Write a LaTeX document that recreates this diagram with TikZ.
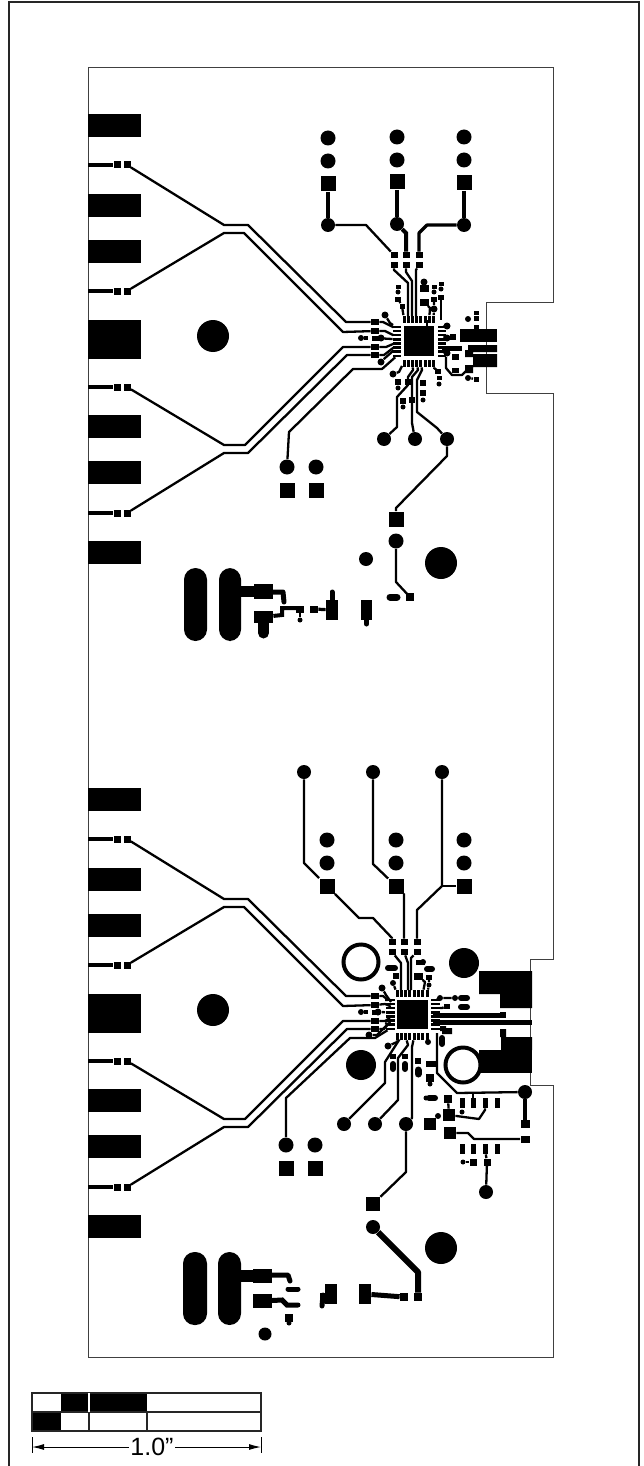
\documentclass[tikz,border=0pt]{standalone}
\usepackage{fontspec}
\setsansfont{Liberation Sans}
\usetikzlibrary{arrows.meta}

\begin{document}
\begin{tikzpicture}[x=0.5pt, y=-0.5pt]
    % ================= styles =================
    \tikzset{
        vnode/.style={circle, fill=black, minimum size=#1*0.5pt, inner sep=0pt},
        vnode/.default=14,
        pnode/.style 2 args={rectangle, fill=black, minimum width=#1*0.5pt, minimum height=#2*0.5pt, inner sep=0pt},
        ringnode/.style={circle, draw=black, line width=2pt, fill=white, minimum size=35*0.5pt, inner sep=0pt},
        track/.style={line width=1.15pt, black, line join=round},
        wtrack/.style={line width=1.6pt, black, line join=round},
        blob/.style={line width=#1*0.5pt, black, line cap=round, line join=round},
        outline/.style={line width=0.5pt, black!75},
        frameline/.style={line width=1pt, black!85}
    }
    \useasboundingbox (0,0) rectangle (643,1466);

    % ================= frame and board =================
    \draw[frameline] (9,1470)--(9,2)--(639,2)--(639,1470);
    \draw[outline] (88,68)--(553,68)--(553,302)--(486,302)--(486,393)--(553,393)--(553,959)
        --(530,959)--(530,1085)--(553,1085)--(553,1357)--(88,1357)--cycle;

    % ================= left half, same on both boards =================
    \foreach \dy/\bd in {0/t,674/b}{
        \begin{scope}[shift={(0,\dy)}, name prefix=\bd-]
            \foreach \yt/\ht in {125.5/23, 205.5/23, 251.5/23, 339/39, 426/23, 472.5/23, 552.5/23}
                \node[pnode={53}{\ht}] at (114.5,\yt) {};
            \node[vnode=32] (hole) at (213,336) {};

            \foreach \i/\ys in {1/165, 2/291, 3/387, 4/513}{
                \coordinate (e\i) at (88,\ys);
                \node[pnode={7}{7}] (a\i) at (117,\ys) {};
                \node[pnode={7}{7}] (c\i) at (127,\ys) {};
                \draw[line width=2pt] (e\i)--(a\i);
            }
            \node[pnode={8}{6}] (p1) at (375,322) {};
            \node[pnode={8}{6}] (p2) at (375,331) {};
            \node[pnode={7}{5}] (p3) at (375,338) {};
            \node[pnode={8}{6}] (p4) at (375,347) {};
            \node[pnode={8}{6}] (p5) at (375,355) {};
            \node[vnode=6] (v3) at (361,338) {};
            \coordinate (v3b) at (368,338);
            \draw[line width=2pt] (v3)--(v3b);

            \draw[track] (c1)--(224,225)--(248,225)--(346,322)--(p1);
            \draw[track] (c2)--(224,233)--(244,233)--(343,332)--(p2);
            \draw[track] (c3)--(224,445)--(245,445)--(343,347)--(p4);
            \draw[track] (c4)--(224,453)--(248,453)--(347,355)--(p5);
        \end{scope}
    }

    % ================= top board: connector pads =================
    \foreach \n/\xc/\ya/\yb/\yc/\yd in {1/328/138/161/184/225, 2/397/137/160/182/224, 3/464/137/160/183/225}{
        \node[vnode=15] (ta\n) at (\xc,\ya) {};
        \node[vnode=15] (tb\n) at (\xc,\yb) {};
        \node[pnode={15}{15}] (ts\n) at (\xc,\yc) {};
        \node[vnode=14] (td\n) at (\xc,\yd) {};
        \draw[wtrack] (ts\n)--(td\n);
    }
    \foreach \n/\xc in {1/394, 2/406, 3/419}{
        \node[pnode={7}{6}] (tu\n) at (\xc,255) {};
        \node[pnode={7}{6}] (tl\n) at (\xc,265) {};
    }
    \draw[track] (td1)--(366,225)--(tu1);
    \draw[line width=2pt] (td2)--(406,233)--(tu2);
    \draw[wtrack] (td3)--(427,225)--(419,233)--(tu3);
    \draw[track] (tl1)--(394,270)--(408,283)--(408,316);
    \draw[track] (tl2)--(406,272)--(412,281)--(412,316);
    \draw[track] (tl3)--(416,270)--(416,316);

    % ================= top board: chip =================
    \node[pnode={30}{30}] (tic) at (419,341) {};
    \foreach \i in {0,...,7}{
        \node[pnode={3}{7}] (ttp\i) at ({404+4.2*\i},319) {};
        \node[pnode={3}{7}] (tbp\i) at ({404+4.2*\i},363.5) {};
        \node[pnode={8}{2.4}] (tlp\i) at (397,{327+4.1*\i}) {};
        \node[pnode={8}{2.4}] (trp\i) at (441.5,{327+4.1*\i}) {};
    }
    \draw[track] (t-p1)--(383,322)--(393,327)--(tlp0);
    \draw[track] (t-p2)--(385,331)--(393,335)--(tlp2);
    \draw[track] (t-p3)--(tlp3);
    \node[vnode=7] (tv3) at (381,338) {};
    \draw[track] (t-p4)--(386,347)--(393,344)--(tlp4);
    \draw[track] (t-p5)--(384,355)--(393,348)--(tlp5);
    \node[vnode=7] (tv4) at (385,315) {};
    \draw[track] (tv4)--(390,323)--(393,325);
    \node[vnode=7] (tv5) at (381,362) {};
    \draw[track] (tv5)--(385,358)--(393,351)--(tlp6);
    \draw[track] (427,326)--(427,320);

    % ================= top board: small parts =================
    \node[vnode=7] (s1) at (424,282) {};
    \node[pnode={9}{7}] (s2) at (424,288) {};
    \node[pnode={9}{7}] (s3) at (424,302) {};
    \draw[track] (s3)--(430,308)--(ttp6);
    \foreach \n/\xc/\ya/\yb/\yc in {4/398/287/292/299, 5/434/287/292/299, 6/441/284/289/297}{
        \node[pnode={5}{4}] (sa\n) at (\xc,\ya) {};
        \node[vnode=5] (sb\n) at (\xc,\yb) {};
        \node[pnode={6}{5}] (sc\n) at (\xc,\yc) {};
    }
    \node[pnode={5}{5}] (s7) at (402,306) {};
    \draw[track] (sc4)--(s7)--(ttp0);
    \node[vnode=7] (s8) at (434,309) {};
    \draw[track] (sc5)--(s8)--(ttp7);
    \draw[track] (sc6)--(441,320);
    \node[vnode=7] (r1) at (447,326) {};
    \draw[track] (r1)--(trp0);
    \node[vnode=7] (r2) at (447,338) {};
    \node[pnode={6}{6}] (r3) at (453,337) {};
    \draw[track] (r2)--(trp2);
    \node[pnode={20}{5}] (r4) at (452,348) {};
    \node[vnode=7] (r5) at (447,353) {};
    \draw[track] (r5)--(trp6);
    \node[pnode={7}{6}] (r6) at (455,357) {};
    \node[pnode={7}{5}] (r7) at (455,370) {};
    \node[vnode=6] (r8) at (468,319) {};
    \node[pnode={5}{4}] (r9) at (476,313) {};
    \node[pnode={5}{5}] (r10) at (476,318) {};
    \node[pnode={5}{5}] (r11) at (476,327) {};
    \node[vnode=6] (r12) at (468,378) {};
    \node[pnode={5}{5}] (r13) at (476,379) {};
    \draw[track] (r12)--(r13);
    \fill (460,329) rectangle (497,342);
    \fill (468,345) rectangle (497,352) (465,350) rectangle (473,357);
    \fill (473,354) rectangle (497,367) (465,365) rectangle (473,373);
    \draw[track] (446,357)--(446,368)--(452,375)--(462,375)--(466,371);
    \draw[track] (tbp7)--(434,368)--(438,371);
    \node[pnode={6}{5}] (r14) at (438,371) {};
    \node[pnode={5}{4}] (r15) at (439,378) {};
    \node[vnode=5] (r16) at (439,384) {};

    % ================= top board: lower traces =================
    \node[vnode=14] (tj1) at (384,439) {};
    \node[vnode=14] (tj2) at (415,439) {};
    \node[vnode=14] (tj3) at (447,439) {};
    \node[vnode=15] (tk1) at (287,467) {};
    \node[vnode=15] (tk2) at (316,467) {};
    \node[pnode={15}{15}] (tq1) at (287,490) {};
    \node[pnode={15}{15}] (tq2) at (316,490) {};
    \node[pnode={15}{15}] (tq3) at (396,519) {};
    \node[vnode=15] (tk3) at (396,541) {};
    \node[vnode=14] (tk4) at (366,559) {};
    \node[vnode=32] (thole) at (441,563) {};
    \draw[track] (tk1)--(289,432)--(353,369)--(382,369)--(tlp7);
    \draw[track] (tj1)--(397,427)--(397,397)--(408,385)--(408,377)--(413,370)--(tbp2);
    \draw[track] (tj2)--(412,423)--(412,377)--(418,370)--(tbp3);
    \draw[track] (tj3)--(437,428)--(417,412)--(417,380)--(422,370)--(tbp4);
    \draw[track] (tj3)--(447,456)--(396,508)--(tq3);
    \draw[track] (tk3)--(396,582)--(410,597);
    \node[pnode={8}{8}] (te1) at (410,597) {};
    \draw[blob=7] (390,597)--(397,597);
    \node[vnode=7] (te2) at (393,374) {};
    \draw[track] (te2)--(399,372)--(402,366);
    \foreach \n/\xc/\ya in {1/398/382, 2/403/401, 3/423/383, 4/423/393}{
        \node[pnode={6}{6}] (tf\n) at (\xc,\ya) {};
    }
    \node[vnode=5] (tf5) at (398,388) {};
    \node[vnode=5] (tf6) at (403,407) {};
    \node[pnode={6}{6}] (tf7) at (408,382) {};
    \node[pnode={6}{6}] (tf8) at (412,400) {};
    \node[vnode=5] (tf9) at (423,400) {};

    % ================= top board: power end =================
    \fill[rounded corners=5.75pt] (184,568) rectangle (207,641);
    \fill[rounded corners=5.75pt] (219,568) rectangle (241,641);
    \fill (241,586) rectangle (255,597);
    \node[pnode={19}{15}] (tw1) at (263.5,591.5) {};
    \draw[blob=5] (273,592)--(283,592)--(284,602);
    \node[pnode={19}{12}] (tw2) at (263.5,617) {};
    \draw[blob=11] (263.5,622)--(263.5,633);
    \draw[line width=2pt] (tw2)--(282,615)--(282,608)--(303,608);
    \node[pnode={8}{7}] (tw3) at (300,609) {};
    \node[vnode=5] (tw4) at (300,620) {};
    \draw[track] (tw3)--(tw4);
    \node[pnode={8}{7}] (tw5) at (314,609) {};
    \node[pnode={12}{20}] (tw6) at (332,610) {};
    \draw[wtrack] (tw5)--(tw6);
    \draw[blob=5] (332,601)--(332,592);
    \node[pnode={11}{20}] (tw7) at (366.5,610) {};
    \draw[blob=5] (366.5,618)--(366.5,624);

    % ================= bottom board: connector pads =================
    \foreach \n/\xv/\xc in {1/304/327, 2/373/396, 3/442/464}{
        \node[vnode=14] (bv\n) at (\xv,772) {};
        \node[vnode=15] (ba\n) at (\xc,840) {};
        \node[vnode=15] (bb\n) at (\xc,863) {};
        \node[pnode={15}{15}] (bs\n) at (\xc,886) {};
    }
    \foreach \n/\xc in {1/392, 2/404, 3/417}{
        \node[pnode={7}{6}] (bu\n) at (\xc,942) {};
        \node[pnode={7}{6}] (bl\n) at (\xc,952) {};
    }
    \draw[track] (bv1)--(304,863)--(bs1)--(359,918)--(373,918)--(392,938)--(bu1);
    \draw[track] (bv2)--(373,864)--(bs2)--(404,894)--(bu2);
    \draw[track] (bv3)--(442,886)--(417,910)--(bu3);
    \draw[track] (442,886)--(bs3);
    \draw[track] (bl1)--(401,963)--(401,990);
    \draw[track] (bl2)--(408,963)--(408,990);
    \draw[track] (bl3)--(411,958)--(411,990);
    \node[ringnode] (bring1) at (361,962) {};
    \node[ringnode] (bring2) at (463,1065) {};
    \node[vnode=30] (bhole1) at (464,963) {};
    \node[vnode=30] (bhole2) at (361,1065) {};
    \node[vnode=32] (bhole3) at (441,1248) {};

    % ================= bottom board: chip =================
    \node[pnode={31}{29}] (bic) at (412.5,1014.5) {};
    \foreach \i in {0,...,7}{
        \node[pnode={3}{7}] (btp\i) at ({397+4.3*\i},993.5) {};
        \node[pnode={3}{7}] (bbp\i) at ({397+4.3*\i},1036.5) {};
        \node[pnode={9}{2.4}] (blp\i) at (390,{1000+4.1*\i}) {};
        \node[pnode={9}{2.4}] (brp\i) at (435,{1000+4.1*\i}) {};
    }
    \draw[track] (b-p1)--(383,996)--(388,1000)--(blp0);
    \draw[track] (b-p2)--(385,1004)--(390,1006)--(blp1);
    \node[vnode=7] (bv3) at (378,1012) {};
    \draw[track] (bv3)--(blp3);
    \draw[track] (b-p4)--(385,1021)--(390,1018)--(blp4);
    \draw[track] (b-p5)--(384,1029)--(390,1022)--(blp5);
    \node[vnode=7] (bv4) at (382,988) {};
    \draw[track] (bv4)--(386,995)--(391,1002);
    \node[vnode=7] (bv5) at (369,1035) {};
    \draw[track] (bv5)--(377,1035)--(388,1024)--(blp6);

    % ================= bottom board: small parts =================
    \node[pnode={9}{5}] (bn1) at (420,962) {};
    \node[vnode=6] (bn2) at (423,962) {};
    \draw[blob=6] (388,968)--(395,968);
    \draw[blob=6] (427,969)--(432,969);
    \node[pnode={6}{6}] (bn3) at (396,976) {};
    \node[vnode=6] (bn4) at (393,983) {};
    \draw[track] (bn4)--(btp0);
    \node[pnode={9}{7}] (bn5) at (418,976) {};
    \draw[track] (bn5)--(425,982)--(btp6);
    \node[pnode={6}{5}] (bn6) at (429,977) {};
    \node[vnode=5] (bn7) at (429,985) {};
    \draw[track] (bn6)--(bn7)--(btp7);
    \node[vnode=6] (bn8) at (440,998) {};
    \node[vnode=6] (bn9) at (455,998) {};
    \draw[track] (brp0)--(bn8)--(bn9);
    \draw[blob=6] (461,998)--(467,998);
    \node[pnode={6}{5}] (bn10) at (447,1006) {};
    \draw[track] (brp2)--(442,1008)--(bn10);
    \draw[blob=6] (461,1007)--(467,1007);
    \fill (479,971) rectangle (532,994) (500,994) rectangle (532,1008);
    \fill (500,1029) rectangle (506,1037) (501,1037) rectangle (532,1050);
    \fill (479,1050) rectangle (532,1073);
    \coordinate (bx0) at (433,1015);
    \node[pnode={6}{6}] (bx1) at (503,1015) {};
    \draw[line width=2.5pt] (bx0)--(bx1);
    \coordinate (bx3) at (433,1022);
    \coordinate (bx2) at (532,1022);
    \draw[line width=2.5pt] (bx3)--(bx2);
    \fill (440,1026) rectangle (446,1031) (442,1028) rectangle (452,1034);
    \draw[blob=6] (442,1038)--(442,1044);
    \node[vnode=6] (bt1) at (428,1042) {};
    \draw[track] (bt1)--(bbp7);
    \node[vnode=7] (bt2) at (388,1046) {};
    \draw[track] (bt2)--(397,1042)--(bbp0);
    \foreach \n/\xc in {1/393, 2/405}{
        \node[pnode={6}{5}] (bta\n) at (\xc,1056) {};
        \draw[blob=6] (\xc,1064)--(\xc,1069);
    }
    \node[pnode={6}{6}] (bt3) at (418,1061) {};
    \draw[blob=7] (418,1070)--(418,1074);
    \node[pnode={10}{6}] (bt4) at (431,1064) {};
    \node[pnode={8}{8}] (bt5) at (430,1078) {};
    \node[vnode=5] (bt6) at (430,1084) {};

    % ================= bottom board: lower traces =================
    \node[vnode=14] (bj1) at (344,1124) {};
    \node[vnode=14] (bj2) at (375,1124) {};
    \node[vnode=14] (bj3) at (406,1124) {};
    \node[vnode=15] (bk1) at (286,1145) {};
    \node[vnode=15] (bk2) at (315,1145) {};
    \node[pnode={15}{15}] (bq1) at (286,1168) {};
    \node[pnode={15}{15}] (bq2) at (315,1168) {};
    \node[pnode={14}{14}] (bq3) at (373,1204) {};
    \node[vnode=14] (bk3) at (373,1227) {};
    \node[pnode={8}{8}] (bq4) at (418,1297) {};
    \draw[track] (bk1)--(286,1098)--(350,1038)--(375,1038)--(blp7);
    \draw[track] (bj1)--(385,1083)--(385,1062)--(bbp1);
    \draw[track] (bj2)--(398,1100)--(398,1058)--(408,1045)--(bbp2);
    \draw[track] (bj3)--(412,1118)--(412,1047)--(bbp4);
    \draw[track] (bj3)--(406,1172)--(bq3);
    \draw[line width=3pt, line join=round] (bk3)--(418,1272)--(bq4);

    % ================= bottom board: right hand parts =================
    \node[vnode=14] (bg1) at (525,1092) {};
    \node[pnode={9}{8}] (bg2) at (525,1124) {};
    \node[pnode={9}{7}] (bg3) at (525,1139) {};
    \draw[wtrack] (bg1)--(bg2);
    \draw[track] (437,1033)--(437,1073)--(457,1093)--(bg1);
    \foreach \n/\xc in {1/462, 2/473, 3/485, 4/497}{
        \node[pnode={5}{10}] (bh\n) at (\xc,1103) {};
        \node[pnode={5}{10}] (bi\n) at (\xc,1149) {};
    }
    \draw[track] (473,1093)--(bh2);
    \node[vnode=5] (bg4) at (462,1112) {};
    \node[pnode={8}{8}] (bg5) at (448,1099) {};
    \node[pnode={12}{12}] (bg6) at (449,1115) {};
    \draw[track] (bg5)--(bg6);
    \draw[track] (bg6)--(479,1119)--(485,1110)--(bh3);
    \node[pnode={12}{12}] (bg7) at (430,1124) {};
    \node[vnode=6] (bg8) at (438,1116) {};
    \draw[blob=6] (429,1098)--(435,1098);
    \node[vnode=5] (bg9) at (426,1098) {};
    \node[pnode={12}{12}] (bg10) at (450,1133) {};
    \draw[track] (bg10)--(468,1133)--(474,1139)--(bg3);
    \node[pnode={7}{7}] (bg11) at (473,1162) {};
    \node[vnode=5] (bg12) at (463,1162) {};
    \draw[track] (bg12)--(bg11);
    \node[pnode={7}{7}] (bg13) at (487,1162) {};
    \node[vnode=14] (bg14) at (486,1192) {};
    \draw[track] (bi3)--(bg13)--(bg14);

    % ================= bottom board: power end =================
    \fill[rounded corners=5.75pt] (183,1252) rectangle (207,1325);
    \fill[rounded corners=5.75pt] (218,1252) rectangle (241,1325);
    \fill (240,1270) rectangle (254,1282);
    \node[pnode={19}{14}] (bw1) at (262.5,1275.5) {};
    \draw[blob=5] (272,1275)--(288,1275)--(290,1281);
    \draw[blob=5] (288,1289)--(298,1289);
    \node[pnode={19}{14}] (bw2) at (262.5,1301) {};
    \draw[line width=2.5pt, line cap=round] (bw2)--(282,1300)--(287,1305)--(298,1305);
    \node[pnode={8}{8}] (bw3) at (289,1318) {};
    \node[vnode=5] (bw4) at (289,1323) {};
    \node[vnode=13] (bw5) at (265,1334) {};
    \node[pnode={12}{20}] (bw6) at (331,1294) {};
    \draw[blob=5] (323,1295)--(322,1306);
    \fill (320,1293) rectangle (326,1303);
    \node[pnode={12}{20}] (bw7) at (365,1294) {};
    \node[pnode={8}{8}] (bw8) at (404,1297) {};
    \draw[line width=2.5pt] (bw7)--(bw8);

    % ================= scale bar =================
    \fill (61,1393) rectangle (147,1412);
    \fill (32,1412) rectangle (61,1431);
    \draw[line width=0.6pt, black!85] (32,1393) rectangle (261,1431);
    \draw[line width=0.6pt, black!85] (32,1412)--(261,1412);
    \draw[line width=0.6pt, white] (89,1393)--(89,1412);
    \draw[line width=0.6pt, black!85] (89,1412)--(89,1431);
    \draw[line width=0.6pt, black!85] (147,1412)--(147,1431);
    \coordinate (dimL) at (32,1447);
    \coordinate (dimR) at (261,1447);
    \draw[line width=0.5pt] (32,1437)--(32,1453);
    \draw[line width=0.5pt] (261,1437)--(261,1453);
    \draw[line width=0.5pt, {Latex[length=6pt,width=3pt]}-{Latex[length=6pt,width=3pt]}] (dimL)--(dimR);
    \node[fill=white, inner sep=0.5pt, font=\sffamily\fontsize{12.5}{13}\selectfont] (dimtext) at (152,1447) {1.0"};
\end{tikzpicture}
\end{document}
